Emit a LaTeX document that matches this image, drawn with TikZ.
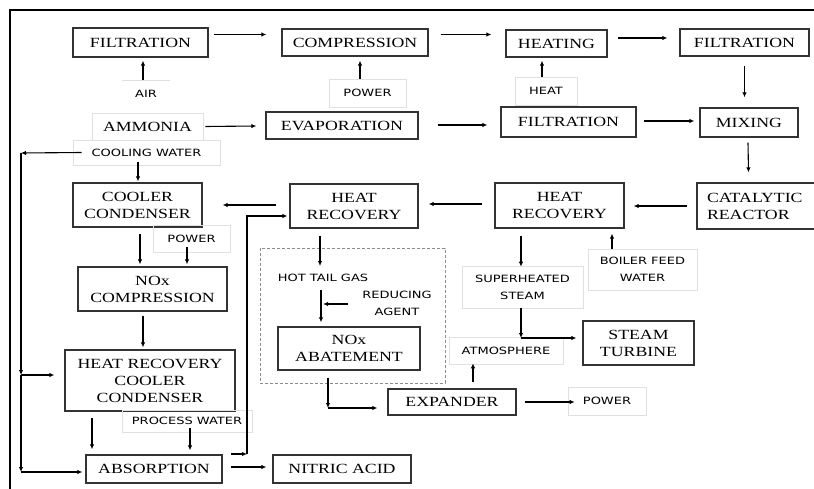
\documentclass[tikz,border=0pt]{standalone}
\usepackage{fontspec}
\setmainfont{Liberation Serif}[FakeStretch=1.27]
\newfontfamily\lblfont{DejaVu Sans}[FakeStretch=1.3]
\usetikzlibrary{arrows.meta}
\tikzset{
  procbox/.style={draw=black!80, line width=1.3pt, inner sep=0pt, align=center, font=\fontsize{14}{17}\selectfont},
  lblbox/.style={draw=black!12, line width=0.6pt, inner sep=0pt, align=center, font=\lblfont\fontsize{10}{17}\selectfont},
  lbltext/.style={inner sep=0pt, align=center, font=\lblfont\fontsize{10}{17}\selectfont},
  flow/.style={line width=1.1pt, -{Latex[length=5pt,width=4.5pt]}},
}
\begin{document}
\begin{tikzpicture}[x=1pt,y=-1pt]
  \clip (0,0) rectangle (814,489);
  \fill[white] (0,0) rectangle (814,489);
  \draw[line width=1.3pt] (10,489) -- (10,10) -- (814,10);
  \draw[black!45, densely dashed, line width=0.8pt] (260,248) rectangle (445,383);
  \node[procbox, minimum width=135pt, minimum height=29pt] (filt1) at (140.5,42.5) {FILTRATION};
  \node[procbox, minimum width=146pt, minimum height=27pt] (comp) at (355,42.5) {COMPRESSION};
  \node[procbox, minimum width=101pt, minimum height=27pt] (heat) at (556.5,43.5) {HEATING};
  \node[procbox, minimum width=129pt, minimum height=27pt] (filt2) at (744.5,42.5) {FILTRATION};
  \node[procbox, minimum width=152pt, minimum height=27pt] (evap) at (342,125.5) {EVAPORATION};
  \node[procbox, minimum width=135pt, minimum height=30pt] (filt3) at (568.5,122) {FILTRATION};
  \node[procbox, minimum width=98pt, minimum height=29pt] (mix) at (749,122.5) {MIXING};
  \node[procbox, minimum width=120pt, minimum height=46pt, text width=100pt, align=left] (cat) at (757,206) {CATALYTIC\\REACTOR};
  \node[procbox, minimum width=129pt, minimum height=45pt] (hr2) at (559.5,205.5) {HEAT\\RECOVERY};
  \node[procbox, minimum width=128pt, minimum height=44pt] (hr1) at (354,206) {HEAT\\RECOVERY};
  \node[procbox, minimum width=129pt, minimum height=44pt] (cc) at (137.5,205) {COOLER\\CONDENSER};
  \node[procbox, minimum width=149pt, minimum height=44pt] (noxc) at (152.5,289) {NOx\\COMPRESSION};
  \node[procbox, minimum width=170pt, minimum height=61pt] (hrcc) at (150,380.5) {HEAT RECOVERY\\COOLER\\CONDENSER};
  \node[procbox, minimum width=136pt, minimum height=28pt] (abs) at (154,469) {ABSORPTION};
  \node[procbox, minimum width=138pt, minimum height=28pt] (nitric) at (342,469) {NITRIC ACID};
  \node[procbox, minimum width=142pt, minimum height=43pt] (abate) at (349,348.5) {NOx\\ABATEMENT};
  \node[procbox, minimum width=128pt, minimum height=26pt] (expander) at (452,402) {EXPANDER};
  \node[procbox, minimum width=111pt, minimum height=44pt] (turbine) at (638.5,343) {STEAM\\TURBINE};
  \node[lbltext, minimum width=48pt, minimum height=27pt] (air) at (146,94) {AIR};
  \draw[black!12, line width=0.6pt] (air.north west) -- (air.north east);
  \node[lblbox, minimum width=77pt, minimum height=28pt] (pow1) at (367.5,93) {POWER};
  \node[lblbox, minimum width=62pt, minimum height=28pt] (heatin) at (546,91) {HEAT};
  \node[lblbox, minimum width=111pt, minimum height=27pt, font=\fontsize{14}{17}\selectfont] (amm) at (147.5,126.5) {AMMONIA};
  \node[lblbox, minimum width=147pt, minimum height=25pt] (cw) at (146.5,152.5) {COOLING WATER};
  \node[lblbox, minimum width=77pt, minimum height=27pt] (pow2) at (191.5,238.5) {POWER};
  \node[lbltext] (hotgas) at (323,278) {HOT TAIL GAS};
  \node[lbltext] (reduce) at (397,303.5) {REDUCING\\AGENT};
  \node[lblbox, minimum width=121pt, minimum height=42pt] (steam) at (522.5,287) {SUPERHEATED\\STEAM};
  \node[lblbox, minimum width=109pt, minimum height=41pt] (bfw) at (642.5,269.5) {BOILER FEED\\WATER};
  \node[lblbox, minimum width=130pt, minimum height=22pt] (pw) at (187,421) {PROCESS WATER};
  \node[lblbox, minimum width=114pt, minimum height=27pt] (atm) at (506,350.5) {ATMOSPHERE};
  \node[lblbox, minimum width=78pt, minimum height=28pt] (pow3) at (607,401) {POWER};
  \coordinate (cwturn) at (21,153);
  \coordinate (hrccturn) at (21,375);
  \coordinate (absturn) at (21,472);
  \coordinate (tailturn) at (247,454);
  \coordinate (abateturn) at (328,408);
  \coordinate (steamturn) at (521,338);
  \draw[flow] ([shift={(5,-8)}]filt1.east) -- ([shift={(-15,-8)}]comp.west);
  \draw[flow] ([shift={(12,-8)}]comp.east) -- ([shift={(-14,-9)}]heat.west);
  \draw[flow] ([shift={(10,-5.5)}]heat.east) -- ([shift={(-12,-4.5)}]filt2.west);
  \draw[flow] ([shift={(0,9)}]filt2.south) -- ([shift={(-4.5,-10)}]mix.north);
  \draw[flow] ([shift={(-1,5)}]mix.south) -- ([shift={(-8.5,-10)}]cat.north);
  \draw[flow] ([shift={(-9,0)}]cat.west) -- ([shift={(9,0.5)}]hr2.east);
  \draw[flow] ([shift={(-12,-1.5)}]hr2.west) -- ([shift={(10,-2)}]hr1.east);
  \draw[flow] ([shift={(-13,-1)}]hr1.west) -- ([shift={(20,0)}]cc.east);
  \draw[flow] ([shift={(-3,0)}]air.north) -- ([shift={(2.5,3)}]filt1.south);
  \draw[flow] ([shift={(-7.5,0)}]pow1.north) -- ([shift={(5,4)}]comp.south);
  \draw[flow] ([shift={(-4,0)}]heatin.north) -- ([shift={(-14.5,3)}]heat.south);
  \draw[flow] ([shift={(2,0)}]amm.east) -- ([shift={(-9,0.5)}]evap.west);
  \draw[flow] ([shift={(19,-0.5)}]evap.east) -- ([shift={(-13,3)}]filt3.west);
  \draw[flow] ([shift={(7,-1)}]filt3.east) -- ([shift={(-5,-1.5)}]mix.west);
  \draw[flow] ([shift={(-8.5,-3)}]cw.south) -- ([shift={(0.5,-1)}]cc.north);
  \draw[flow] ([shift={(9,0)}]cw.west) -- (cwturn);
  \draw[flow] (cwturn) -- (hrccturn);
  \draw[flow] (hrccturn) -- (absturn);
  \draw[flow] (hrccturn) -- ([shift={(-10,-5.5)}]hrcc.west);
  \draw[flow] (absturn) -- ([shift={(-3,3)}]abs.west);
  \draw[flow] ([shift={(2.5,6)}]cc.south) -- ([shift={(-12.5,-2)}]noxc.north);
  \draw[flow] ([shift={(-4.5,-5)}]pow2.south) -- ([shift={(34.5,-2)}]noxc.north);
  \draw[flow] ([shift={(-9.5,4)}]noxc.south) -- ([shift={(-7,-2)}]hrcc.north);
  \draw[flow] ([shift={(-58,6)}]hrcc.south) -- ([shift={(-62,-5)}]abs.north);
  \draw[flow] ([shift={(3,-4)}]pw.south) -- ([shift={(36,-4)}]abs.north);
  \draw[flow] ([shift={(8,-2)}]abs.east) -- ([shift={(-6,-2)}]nitric.west);
  \draw[flow] ([shift={(8,-15)}]abs.east) -- (tailturn);
  \draw[flow] (tailturn) |- ([shift={(-2,10)}]hr1.west);
  \draw[flow] ([shift={(-34,7)}]hr1.south) -- ([shift={(-3,-8)}]hotgas.north);
  \draw[flow] ([shift={(-2,8.5)}]hotgas.south) -- ([shift={(-28,-4)}]abate.north);
  \draw[flow] ([shift={(-14,0.5)}]reduce.west) -- ++(-25,0);
  \draw[flow] ([shift={(-21,7)}]abate.south) -- (abateturn);
  \draw[flow] (abateturn) -- ([shift={(-10,6)}]expander.west);
  \draw[flow] ([shift={(8,0)}]expander.east) -- ([shift={(7,1)}]pow3.west);
  \draw[flow] ([shift={(21,-6)}]expander.north) -- ([shift={(-33,-1)}]atm.south);
  \draw[flow] ([shift={(-38.5,7)}]hr2.south) -- ([shift={(-1.5,1)}]steam.north);
  \draw[flow] ([shift={(-1.5,0)}]steam.south) -- (steamturn);
  \draw[flow] (steamturn) -- ([shift={(-6,-5)}]turbine.west);
  \draw[flow] ([shift={(-30.5,0)}]bfw.north) -- ([shift={(52.5,5)}]hr2.south);
\end{tikzpicture}
\end{document}
